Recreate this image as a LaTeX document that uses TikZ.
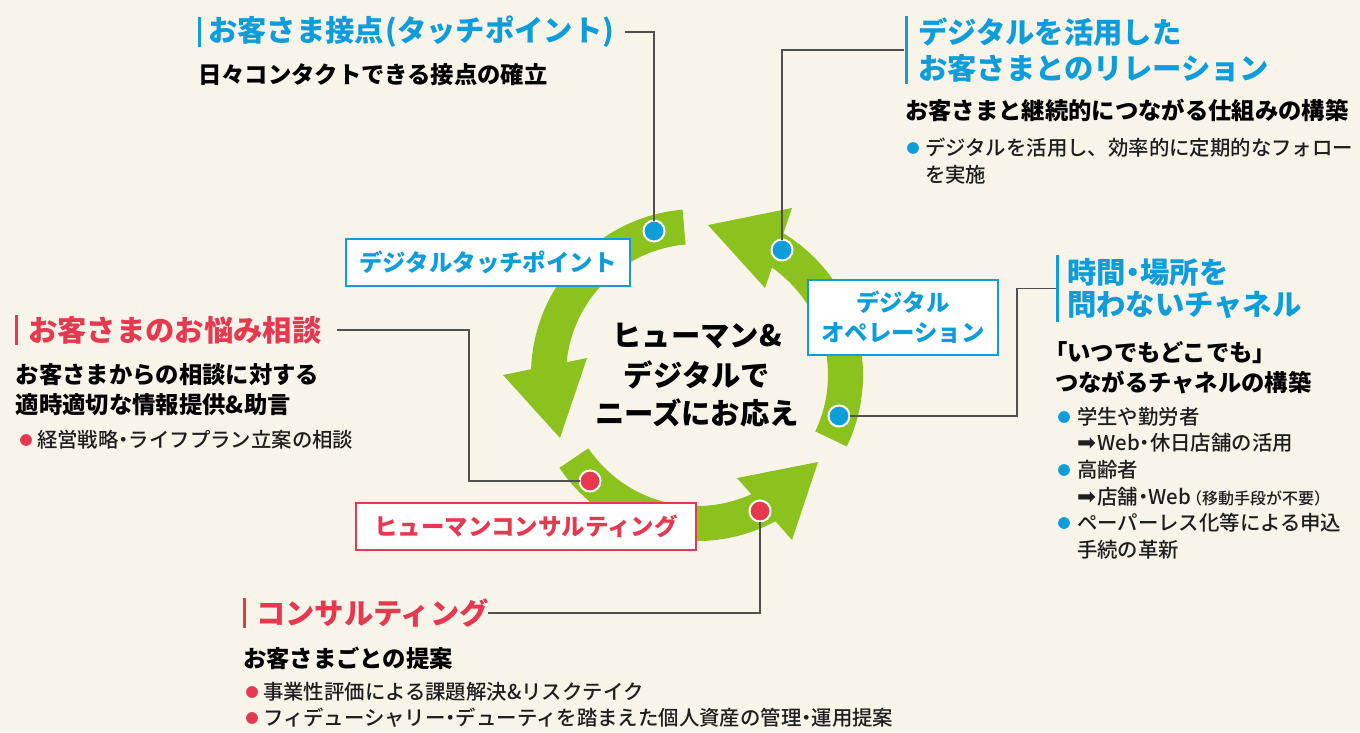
\documentclass[tikz,border=0pt]{standalone}
\usepackage{fontspec}
\setmainfont{Noto Sans CJK JP}
\newfontfamily\medfont{Noto Sans CJK JP Medium}
\newfontfamily\dejavu{DejaVu Sans}
\usetikzlibrary{calc}
\definecolor{bg}{HTML}{F8F4EA}
\definecolor{cblue}{HTML}{0E9DDB}
\definecolor{cred}{HTML}{E63950}
\definecolor{cgreen}{HTML}{8CC21E}
\definecolor{cline}{HTML}{505050}
\definecolor{ctext}{HTML}{1E1E1E}
\newcommand\nkd{\kern-0.25em・\kern-0.25em}
\newcommand\arr{{\dejavu\fontsize{17}{18}\selectfont ➡}\kern1pt}
\begin{document}
\begin{tikzpicture}[x=0.75pt,y=-0.75pt,
  every node/.style={inner sep=0pt, outer sep=0pt},
  head/.style={anchor=west, font=\fontsize{22}{24}\selectfont\bfseries},
  sub/.style={anchor=west, font=\fontsize{17.5}{20}\selectfont\bfseries, text=black},
  body/.style={anchor=west, font=\medfont\fontsize{15.3}{18}\selectfont, text=ctext},
  lbl/.style={draw, fill=white, line width=1.9pt, font=\fontsize{17.6}{22.5}\selectfont\bfseries, align=center},
  ctr/.style={font=\fontsize{22}{24}\selectfont\bfseries, text=black},
  dot/.style={circle, draw=white, line width=1.5pt, minimum size=15.75pt},
  bul/.style={circle, minimum size=8.8pt},
  lead/.style={draw=cline, line width=0.9pt},
  bar/.style={minimum width=2.4pt},
]
\useasboundingbox (0,0) rectangle (1360,732);
\fill[bg] (0,0) rectangle (1360,732);

% ring of three arrows
\begin{scope}[shift={(697,375)}, yscale=-1]
\fill[cgreen] (95:166) arc[start angle=95, end angle=178, radius=166] -- (-194,0) -- (-137,-63) -- (-110,17) -- (174.4:131) arc[start angle=174.4, end angle=95, radius=131] -- cycle;
\fill[cgreen] (214:166) arc[start angle=214, end angle=298.2, radius=166] -- (95,-165) -- (121,-87) -- (40,-103) -- (294.5:131) arc[start angle=294.5, end angle=214, radius=131] -- cycle;
\fill[cgreen] (-25.5:166) arc[start angle=-25.5, end angle=58.6, radius=166] -- (95,167) -- (11,150) -- (68,87) -- (55.1:131) arc[start angle=55.1, end angle=-25.5, radius=131] -- cycle;
\end{scope}

% center text
\node[ctr] (c1) at (697,336) {ヒューマン\&};
\node[ctr] (c2) at (697,375) {デジタルで};
\node[ctr] (c3) at (697,413) {ニーズにお応え};

% label boxes
\node[lbl, draw=cblue, text=cblue, minimum width=213pt, minimum height=35.25pt] (L1) at (488,262.5) {デジタルタッチポイント};
\node[lbl, draw=cblue, text=cblue, minimum width=142.5pt, minimum height=56.25pt] (L2) at (903,317.5) {デジタル\\オペレーション};
\node[lbl, draw=cred, text=cred, minimum width=255pt, minimum height=35.25pt] (L3) at (526,526.5) {ヒューマンコンサルティング};

% dots
\node[dot, fill=cblue] (d1) at (654,231) {};
\node[dot, fill=cblue] (d2) at (782,250) {};
\node[dot, fill=cblue] (d3) at (839,416) {};
\node[dot, fill=cred] (r1) at (590,481) {};
\node[dot, fill=cred] (r2) at (760,511) {};

% heading bars
\node[bar, fill=cblue, minimum height=22.5pt] (b1) at (199.5,32) {};
\node[bar, fill=cblue, minimum height=51pt] (b2) at (906.5,50) {};
\node[bar, fill=cblue, minimum height=50pt] (b3) at (1057.5,288.5) {};
\node[bar, fill=cred, minimum height=22.5pt] (b4) at (16.5,330) {};
\node[bar, fill=cred, minimum height=22.5pt] (b5) at (244.5,613) {};

% leaders
\coordinate (e1) at (625,32);
\coordinate (e2) at (904,50);
\coordinate (k3) at (1017,288.5);
\coordinate (k4) at (469,330);
\coordinate (e4) at (337,330);
\coordinate (e5) at (488,613);
\draw[lead] (d1) |- (e1);
\draw[lead] (d2) |- (e2);
\draw[lead] (d3) -| (k3) -- (b3.west);
\draw[lead] (r1) -| (k4) -- (e4);
\draw[lead] (r2) |- (e5);

% block 1 (top left)
\node[head, text=cblue] (h1) at (208,32) {お客さま接点\hspace{1pt}(タッチポイント)};
\node[sub] (s1) at (198,75) {日々コンタクトできる接点の確立};

% block 2 (top right)
\node[head, text=cblue] (h2a) at (918,32) {デジタルを活用した};
\node[head, text=cblue] (h2b) at (918,68) {お客さまとのリレーション};
\node[sub] (s2) at (905,110) {お客さまと継続的につながる仕組みの構築};
\node[bul, fill=cblue] (u2) at (913,148) {};
\node[body] (t2a) at (925,148) {デジタルを活用し、効率的に定期的なフォロー};
\node[body] (t2b) at (925,175) {を実施};

% block 3 (right)
\node[head, text=cblue] (h3a) at (1067,272) {時間\nkd 場所を};
\node[head, text=cblue] (h3b) at (1067,305) {問わないチャネル};
\node[sub] (s3a) at (1044,353) {「いつでもどこでも」};
\node[sub] (s3b) at (1055,383) {つながるチャネルの構築};
\node[bul, fill=cblue] (u3a) at (1064,417) {};
\node[body] (t3a) at (1077,417) {学生や勤労者};
\node[body] (t3b) at (1077,443) {\arr Web\nkd 休日店舗の活用};
\node[bul, fill=cblue] (u3b) at (1064,470) {};
\node[body] (t3c) at (1077,470) {高齢者};
\node[body] (t3d) at (1077,497) {\arr 店舗\nkd Web{\fontsize{12}{14}\selectfont\kern-0.3em（移動手段が不要）}};
\node[bul, fill=cblue] (u3c) at (1064,523) {};
\node[body] (t3e) at (1077,523) {ペーパーレス化等による申込};
\node[body] (t3f) at (1077,550) {手続の革新};

% block 4 (left)
\node[head, text=cred] (h4) at (28,330) {お客さまのお悩み相談};
\node[sub] (s4a) at (16,375) {お客さまからの相談に対する};
\node[sub] (s4b) at (16,405) {適時適切な情報提供\&助言};
\node[bul, fill=cred] (u4) at (26,440) {};
\node[body] (t4) at (37,440) {経営戦略\nkd ライフプラン立案の相談};

% block 5 (bottom)
\node[head, text=cred] (h5) at (256,613) {コンサルティング};
\node[sub] (s5) at (243,658) {お客さまごとの提案};
\node[bul, fill=cred] (u5a) at (252,692) {};
\node[body] (t5a) at (263,692) {事業性評価による課題解決\&リスクテイク};
\node[bul, fill=cred] (u5b) at (252,718) {};
\node[body] (t5b) at (263,718) {フィデューシャリー\nkd デューティを踏まえた個人資産の管理\nkd 運用提案};
\end{tikzpicture}
\end{document}
